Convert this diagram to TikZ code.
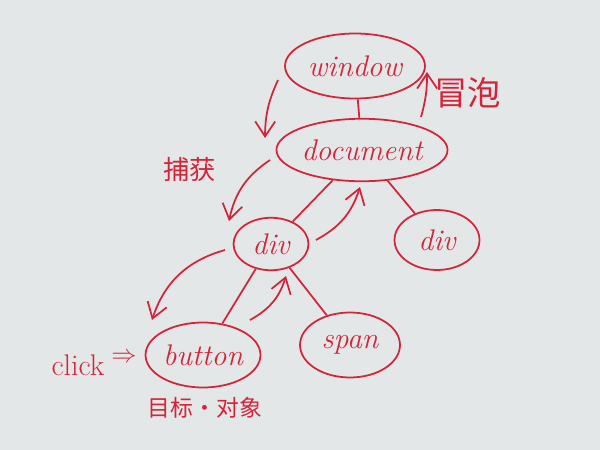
\documentclass[tikz,border=0pt]{standalone}
\usepackage{fontspec}
\newfontfamily\cjk{Noto Sans CJK SC}
\usetikzlibrary{shapes.geometric,arrows.meta}
\definecolor{ink}{RGB}{212,36,58}
\definecolor{paper}{RGB}{228,231,232}
\tikzset{
  elem/.style={ellipse,draw=ink,line width=1pt,text=ink,inner sep=0pt,font=\itshape\fontsize{17}{19}\selectfont},
  link/.style={draw=ink,line width=1pt},
  flow/.style={draw=ink,line width=1pt,-{Straight Barb[length=3mm,width=4mm]}},
  note/.style={text=ink,inner sep=0pt}
}
\begin{document}
\begin{tikzpicture}[x=0.02cm,y=-0.02cm]
\fill[paper] (0,0) rectangle (600,450);
\useasboundingbox (0,0) rectangle (600,450);
% nodes
\node[elem,minimum width=2.8cm,minimum height=1.3cm] (window) at (355,66) {window};
\node[elem,minimum width=3.3cm,minimum height=1.25cm] (document) at (362,150) {document};
\node[elem,minimum width=1.5cm,minimum height=1.05cm] (div1) at (271,244) {div};
\node[elem,minimum width=1.7cm,minimum height=1.2cm] (div2) at (437,240) {div};
\node[elem,minimum width=2.3cm,minimum height=1.3cm] (button) at (203,355) {button};
\node[elem,minimum width=2.0cm,minimum height=1.3cm] (span) at (350,345) {span};
% tree links
\draw[link] (window) -- (document);
\draw[link] (document) -- (div1);
\draw[link] (document) -- (div2);
\draw[link] (div1) -- (button);
\draw[link] (div1) -- (span);
% capture arrows
\coordinate (c1s) at (278,80);
\coordinate (c1e) at (265,138);
\coordinate (c2s) at (270,160);
\coordinate (c2e) at (229,221);
\coordinate (c3s) at (225,250);
\coordinate (c3e) at (152,320);
\draw[flow] (c1s) to[bend right=12] (c1e);
\draw[flow] (c2s) to[bend right=22] (c2e);
\draw[flow] (c3s) to[bend right=28] (c3e);
% bubble arrows
\coordinate (b1s) at (250,320);
\coordinate (b1e) at (286,276);
\coordinate (b2s) at (316,240);
\coordinate (b2e) at (360,187);
\coordinate (b3s) at (421,117);
\coordinate (b3e) at (427,72);
\draw[flow] (b1s) to[bend right=22] (b1e);
\draw[flow] (b2s) to[bend right=22] (b2e);
\draw[flow] (b3s) to[bend right=8] (b3e);
% labels
\node[note,font=\cjk\fontsize{19}{21}\selectfont] (bubble) at (468,93) {冒泡};
\node[note,font=\cjk\fontsize{15}{17}\selectfont] (capture) at (190,170) {捕获};
\node[note,font=\fontsize{17}{19}\selectfont] (click) at (78,365) {click};
\node[note,font=\fontsize{15}{17}\selectfont] (imp) at (124,358) {$\Rightarrow$};
\node[note,font=\cjk\fontsize{13}{15}\selectfont] (target) at (205,408) {目标·对象};
\end{tikzpicture}
\end{document}
